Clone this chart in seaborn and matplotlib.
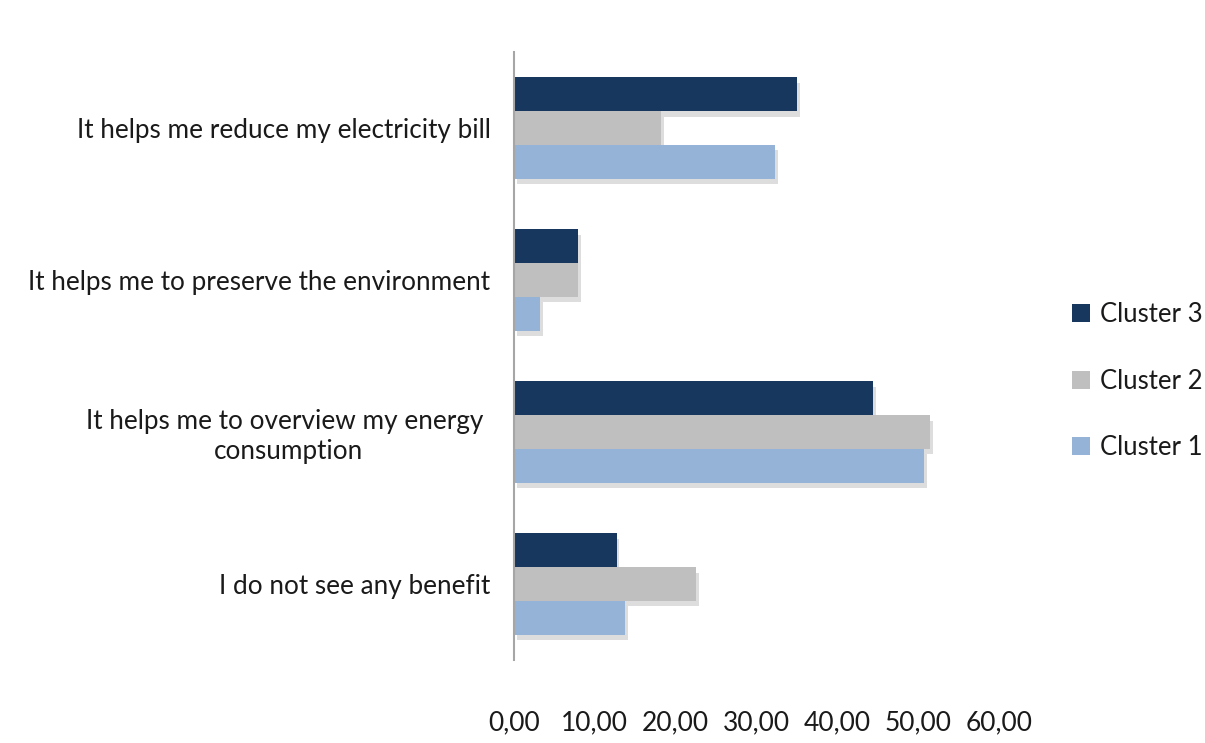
import matplotlib
matplotlib.use("Agg")
import matplotlib.pyplot as plt
import matplotlib.patheffects as pe
from matplotlib.patches import Patch
from matplotlib.ticker import FuncFormatter
import seaborn as sns
import pandas as pd

categories = [
    "It helps me reduce my electricity bill",
    "It helps me to preserve the environment",
    "It helps me to overview my energy \nconsumption",
    "I do not see any benefit",
]
cluster3 = [35.0, 7.9, 44.4, 12.7]
cluster2 = [18.2, 7.9, 51.5, 22.5]
cluster1 = [32.3, 3.2, 50.7, 13.7]
series_names = ["Cluster 3", "Cluster 2", "Cluster 1"]
colors = ["#17375E", "#BFBFBF", "#95B3D7"]
xticks = [0, 10, 20, 30, 40, 50, 60]

rows = []
for name, vals in zip(series_names, [cluster3, cluster2, cluster1]):
    for c, v in zip(categories, vals):
        rows.append({"Benefit": c, "Cluster": name, "Value": v})
df = pd.DataFrame(rows)

sns.set_theme(style="white")
plt.rcParams["font.family"] = ["Lato", "DejaVu Sans"]

fig = plt.figure(figsize=(12.05, 7.43), dpi=100)
ax = fig.add_axes([514 / 1205, 1 - 660 / 743, (999 - 514) / 1205, (660 - 52) / 743])

sns.barplot(data=df, y="Benefit", x="Value", hue="Cluster", order=categories,
            hue_order=series_names, palette=colors, orient="h", width=0.667,
            saturation=1, ax=ax, legend=False)

for p in ax.patches:
    p.set_path_effects([pe.SimplePatchShadow(offset=(2, -4), alpha=0.18, shadow_rgbFace="#444444"), pe.Normal()])
    p.set_edgecolor("none")

ax.set_xlim(0, 60)
ax.set_ylim(3.5, -0.5)
ax.set_xticks(xticks)
ax.xaxis.set_major_formatter(FuncFormatter(lambda v, p: f"{v:.2f}".replace(".", ",")))
ax.set_xlabel("")
ax.set_ylabel("")
ax.tick_params(axis="x", length=0, pad=36, labelsize=19, labelcolor="#1a1a1a")
ax.tick_params(axis="y", length=0, pad=17, labelsize=18.8, labelcolor="#1a1a1a")
for lbl in ax.get_yticklabels():
    lbl.set_multialignment("center")
for s in ["top", "right", "bottom"]:
    ax.spines[s].set_visible(False)
ax.spines["left"].set_color("#A6A6A6")
ax.spines["left"].set_linewidth(1.5)
ax.grid(False)

handles = [Patch(facecolor=c, edgecolor="none") for c in colors]
fig.legend(handles, series_names, loc="center left", bbox_to_anchor=(1072 / 1205, 1 - 381 / 743),
           frameon=False, fontsize=18.5, labelspacing=1.6, handlelength=0.7, handleheight=0.7,
           handletextpad=0.4, labelcolor="#1a1a1a", borderaxespad=0, borderpad=0)

fig.savefig("out.png", dpi=100)
